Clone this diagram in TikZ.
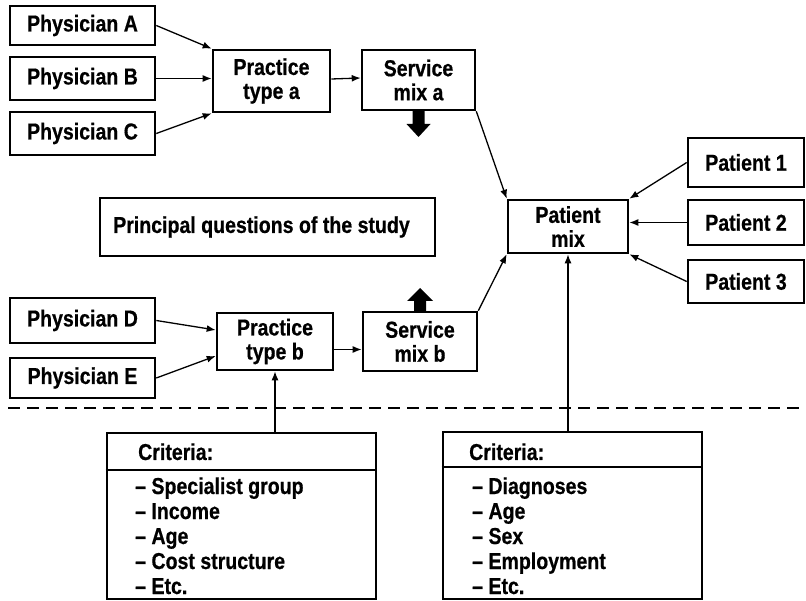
\documentclass[tikz,border=0pt]{standalone}
\usepackage{fontspec}
\newfontfamily\cf[FakeStretch=0.85,BoldFeatures={FakeBold=0.6}]{Liberation Sans}
\usetikzlibrary{arrows.meta}
\begin{document}
\begin{tikzpicture}[x=1pt,y=-1pt,
  box/.style={draw,line width=2.6pt,align=center,inner sep=0pt,font=\cf\bfseries\fontsize{23}{24}\selectfont},
  arr/.style={line width=1.3pt,-{Latex[length=9pt,width=7pt]}},
  txt/.style={inner sep=0pt,anchor=base west,font=\cf\bfseries\fontsize{23}{25}\selectfont},
  blk/.style={fill=black}]
\useasboundingbox (0,0) rectangle (806,601);
% physicians
\node[box,minimum width=145pt,minimum height=39pt] (PA) at (82.5,25.5) {Physician A};
\node[box,minimum width=145pt,minimum height=43pt] (PB) at (82.5,78.5) {Physician B};
\node[box,minimum width=145pt,minimum height=43pt] (PC) at (82.5,133.5) {Physician C};
\node[box,minimum width=145pt,minimum height=45pt] (PD) at (82.5,320.5) {Physician D};
\node[box,minimum width=145pt,minimum height=40pt] (PE) at (82.5,378) {Physician E};
% practice / service
\node[box,minimum width=117pt,minimum height=62pt] (Pa) at (271.5,81) {Practice\\type a};
\node[box,minimum width=113pt,minimum height=60pt] (Sa) at (418.5,80) {Service\\mix a};
\node[box,minimum width=116pt,minimum height=57pt] (Pb) at (275,341.5) {Practice\\type b};
\node[box,minimum width=114pt,minimum height=59pt] (Sb) at (420,341.5) {Service\\mix b};
% patients
\node[box,minimum width=120pt,minimum height=53pt] (PM) at (568,226.5) {Patient\\mix};
\node[box,minimum width=116pt,minimum height=49pt] (T1) at (746,162.5) {Patient 1};
\node[box,minimum width=116pt,minimum height=45pt] (T2) at (746,222.5) {Patient 2};
\node[box,minimum width=116pt,minimum height=43pt] (T3) at (746,281.5) {Patient 3};
% principal questions
\node[box,minimum width=335pt,minimum height=58pt] (PQ) at (267.5,227) {Principal questions of the study\hspace*{12pt}};
% connectors
\draw[arr] (PA.east) -- (Pa.north west);
\draw[arr] (PB.east) -- (Pa.west |- PB.east);
\draw[arr] (PC.east) -- (Pa.south west);
\draw[arr] (PD.east) -- ([yshift=11.5pt]Pb.west);
\draw[arr] (PE.east) -- ([yshift=-14.5pt]Pb.west);
\draw[arr] ([yshift=2pt]Pa.east) -- ([yshift=2pt]Sa.west);
\draw[arr] ([yshift=-8pt]Pb.east) -- ([yshift=-8pt]Sb.west);
\draw[arr] (Sa.south east) -- (PM.north west);
\draw[arr] (Sb.north east) -- (PM.south west);
\draw[arr] (T1.west) -- (PM.north east);
\draw[arr] (T2.west) -- (PM.east |- T2.west);
\draw[arr] (T3.west) -- (PM.south east);
% block arrows
\fill[blk] (412.5,111) -- (424.5,111) -- (424.5,124) -- (430.5,124) -- (418.5,137) -- (406.5,124) -- (412.5,124) -- cycle;
\fill[blk] (414,312) -- (426,312) -- (426,301) -- (433,301) -- (420,288) -- (407,301) -- (414,301) -- cycle;
% dashed line
\coordinate (DL) at (8,408);
\coordinate (DR) at (806,408);
\draw[line width=1.3pt,dash pattern=on 12pt off 7pt] (DL) -- (DR);
% criteria boxes
\node[draw,line width=2.6pt,minimum width=269pt,minimum height=166pt,inner sep=0pt] (C1) at (241.5,516) {};
\node[draw,line width=2.6pt,minimum width=259pt,minimum height=167pt,inner sep=0pt] (C2) at (572.5,515.5) {};
\coordinate (S1) at (0,470);
\coordinate (S2) at (0,467);
\draw[line width=1.4pt] (C1.west |- S1) -- (C1.east |- S1);
\draw[line width=1.4pt] (C2.west |- S2) -- (C2.east |- S2);
\draw[arr] (Pb.south |- C1.north) -- (Pb.south);
\draw[arr] (PM.south |- C2.north) -- (PM.south);
% criteria texts
\node[txt] (c1t) at (138,460) {Criteria:};
\node[txt] (c1a) at (135,494) {– Specialist group};
\node[txt] (c1b) at (135,519) {– Income};
\node[txt] (c1c) at (135,544) {– Age};
\node[txt] (c1d) at (135,569) {– Cost structure};
\node[txt] (c1e) at (135,594) {– Etc.};
\node[txt] (c2t) at (469,460) {Criteria:};
\node[txt] (c2a) at (472,494) {– Diagnoses};
\node[txt] (c2b) at (472,519) {– Age};
\node[txt] (c2c) at (472,544) {– Sex};
\node[txt] (c2d) at (472,569) {– Employment};
\node[txt] (c2e) at (472,594) {– Etc.};
\end{tikzpicture}
\end{document}
